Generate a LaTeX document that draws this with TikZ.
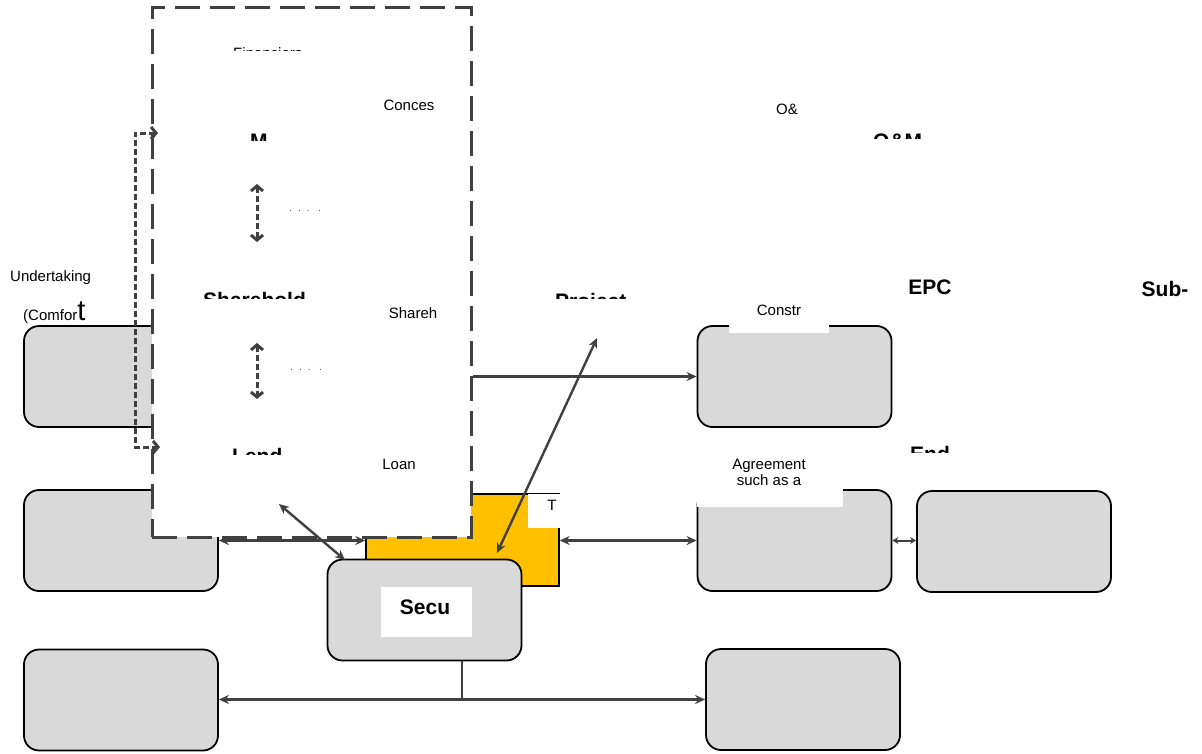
\documentclass[tikz,border=0pt]{standalone}
\usepackage{fontspec}
\setmainfont{Liberation Sans}
\usetikzlibrary{arrows.meta,positioning,calc}
\definecolor{boxgray}{HTML}{D9D9D9}
\definecolor{spvyellow}{HTML}{FFC000}
\definecolor{linegray}{HTML}{404040}
\tikzset{
  party/.style={rectangle, rounded corners=15pt, draw=black, line width=1.8pt, fill=boxgray,
                minimum width=194pt, minimum height=101pt, inner sep=0pt},
  frame/.style={rectangle, draw=linegray, line width=3pt, dash pattern=on 25pt off 10pt, fill=white,
                minimum width=319pt, minimum height=530pt, inner sep=0pt},
  patch/.style={rectangle, fill=white, inner sep=0pt},
  lbl/.style={font=\fontsize{15}{17}\selectfont, inner sep=0pt, align=center},
  ttl/.style={font=\fontsize{21}{24}\selectfont\bfseries, inner sep=0pt},
  arr/.style={-{Stealth[length=10pt,width=9pt]}, line width=2.4pt, linegray},
  darr/.style={{Stealth[length=10pt,width=9pt]}-{Stealth[length=10pt,width=9pt]}, line width=2.4pt, linegray},
  dasharr/.style={{Straight Barb[length=5pt,width=12pt]}-{Straight Barb[length=5pt,width=12pt]},
                  line width=3pt, linegray, dash pattern=on 6pt off 3pt},
}
\begin{document}
\begin{tikzpicture}[x=1pt,y=-1pt]
\useasboundingbox (0,0) rectangle (1202,753);
% parties on the left
\node[party] (sponsor) at (121,376.5) {};
\node[party] (lenders) at (121,540.5) {};
\node[party] (govt) at (121,700) {};
% project company
\node[rectangle, draw=black, line width=1.4pt, fill=spvyellow, minimum width=193pt, minimum height=92pt,
      inner sep=0pt] (spv) at (462.5,540) {};
% parties on the right
\node[party] (epc) at (794.5,376.5) {};
\node[party] (offtaker) at (794.5,540.5) {};
\node[party] (enduser) at (1014,541.5) {};
\node[party] (insurer) at (803,699.5) {};
% finance frame
\node[frame] (finframe) at (311.5,272) {};
% white label patches
\node[patch, minimum width=100pt, minimum height=40pt] (constrpatch) at (779,313) {};
\node[patch, minimum width=146pt, minimum height=54pt] (agrpatch) at (770,480) {};
\node[patch, minimum width=37pt, minimum height=34pt] (tpatch) at (546.5,511) {};
% security
\node[party] (secu) at (424.5,610) {};
\node[patch, minimum width=91pt, minimum height=50pt] (secupatch) at (426.5,612) {};
\node[ttl] (secutxt) at (425,607) {Secu};
% connectors
\draw[arr] (finframe.east |- epc.west) -- (epc.west);
\draw[darr] (lenders.east) -- (lenders.east -| spv.west);
\draw[darr] (spv.east |- offtaker.west) -- (offtaker.west);
\draw[{Stealth[length=6pt,width=7pt]}-{Stealth[length=6pt,width=7pt]}, line width=2pt, linegray]
  (offtaker.east) -- (offtaker.east -| enduser.west);
\coordinate (split) at (462,699.5);
\draw[line width=2.4pt, linegray] (secu.south -| split) -- (split);
\draw[darr] (govt.east |- split) -- (split) -- (insurer.west |- split);
\coordinate (prjtip) at (597,338);
\coordinate (spvtip) at (497,553);
\draw[darr] (prjtip) -- (spvtip);
\coordinate (lendtip) at (279,504);
\coordinate (secutip) at (345,560);
\draw[darr] (lendtip) -- (secutip);
\draw[dasharr] (257,184) -- (257,242);
\draw[dasharr] (257,343) -- (257,399);
\draw[dasharr] (158,133) -- (135,133) -- (135,447) -- (160,447);
% labels
\node[lbl] (conces) at (409,105) {Conces};
\node[lbl] (shareh) at (413,313) {Shareh};
\node[lbl] (loan) at (399,464) {Loan};
\node[lbl] (oa) at (787,109) {O\&};
\node[lbl] (constr) at (779,310) {Constr};
\node[lbl, font=\fontsize{15}{16}\selectfont] (agr) at (769,472) {Agreement\\such as a};
\node[lbl] (tlbl) at (552,505) {T};
\node[lbl, anchor=west] (undert) at (10,278) {Undertaking};
\node[lbl, anchor=base west] (comfort) at (23,320) {(Comfor{\fontsize{29}{30}\selectfont t}};
\node[ttl] (epclbl) at (930,287) {EPC};
\node[ttl] (sublbl) at (1165,289) {Sub-};
\node[font=\fontsize{8}{8}\selectfont, inner sep=0pt] (dots1) at (305,211) {.\ \ \ .\ \ \ .\ \ \ \ .};
\node[font=\fontsize{8}{8}\selectfont, inner sep=0pt] (dots2) at (306,370) {.\ \ \ .\ \ \ .\ \ \ \ .};
% titles cut off at the top strip
\begin{scope}
\clip (228,40) rectangle (300,50);
\node[lbl, anchor=base west] (finlbl) at (233,58) {Financiers};
\end{scope}
\begin{scope}
\clip (245,125) rectangle (275,140);
\node[ttl, anchor=base west] (mlbl) at (250,148) {M};
\end{scope}
\begin{scope}
\clip (198,285) rectangle (312,298);
\node[ttl, anchor=base west] (shlbl) at (203,307) {Sharehold};
\end{scope}
\begin{scope}
\clip (228,440) rectangle (290,454);
\node[ttl, anchor=base west] (lendlbl) at (232,463) {Lend};
\end{scope}
\begin{scope}
\clip (550,285) rectangle (630,298);
\node[ttl, anchor=base west] (prjlbl) at (555,308) {Project};
\end{scope}
\begin{scope}
\clip (868,125) rectangle (926,138);
\node[ttl, anchor=base west] (omlbl) at (873,148) {O\&M};
\end{scope}
\begin{scope}
\clip (905,438) rectangle (952,452);
\node[ttl, anchor=base west] (endlbl) at (910,461) {End};
\end{scope}
\end{tikzpicture}
\end{document}
